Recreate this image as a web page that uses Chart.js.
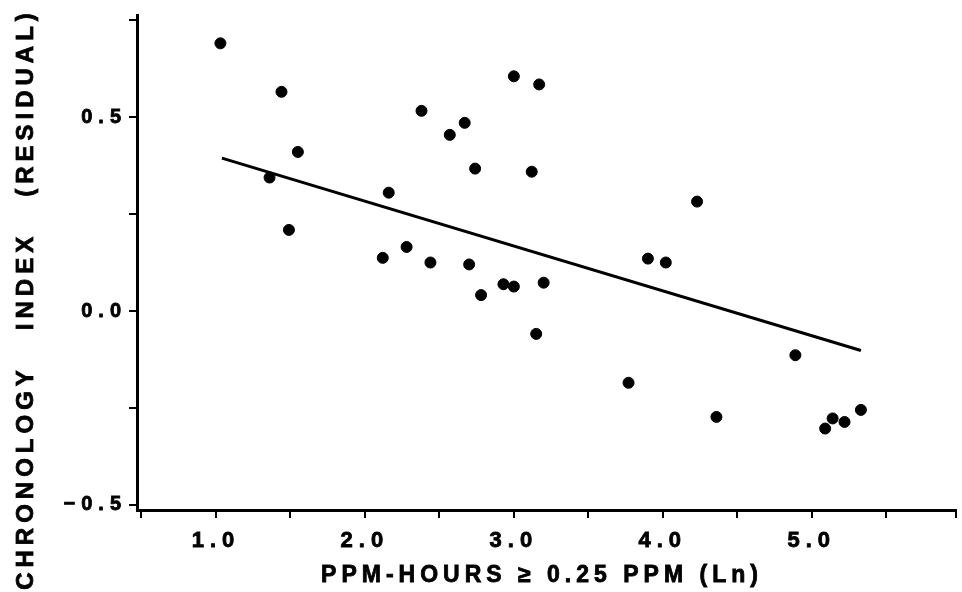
<!DOCTYPE html>
<html>
<head>
<meta charset="utf-8">
<script src="https://cdn.jsdelivr.net/npm/chart.js@4.4.0/dist/chart.umd.min.js"></script>
<style>
    html, body { margin: 0; padding: 0; background: #fff; }
    #wrap { width: 962px; height: 592px; }
</style>
</head>
<body>
<div id="wrap"><canvas id="chart" width="962" height="592"></canvas></div>
<script>
// Scatter points
const xValues = [1.03, 1.44, 1.55, 1.36, 1.49, 2.38, 2.57, 2.67, 2.74, 3.00, 3.17, 3.12,
                 2.16, 2.12, 2.28, 2.44, 2.70, 2.78, 2.93, 3.00, 3.20, 3.15, 3.77, 3.90,
                 4.02, 4.23, 4.36, 4.89, 5.09, 5.14, 5.22, 5.33];
const yValues = [0.69, 0.565, 0.41, 0.344, 0.209, 0.516, 0.454, 0.485, 0.367, 0.605, 0.584, 0.359,
                 0.305, 0.137, 0.165, 0.125, 0.12, 0.041, 0.069, 0.063, 0.073, -0.059, -0.185, 0.135,
                 0.125, 0.282, -0.273, -0.114, -0.303, -0.277, -0.286, -0.255];

// Fitted line end points
const fitX = [1.04, 5.33];
const fitY = [0.394, -0.102];

// Axis ranges and ticks
const xMin = 0.47;
const xMax = 5.965;
const yMin = -0.513;
const yMax = 0.763;
const xTickValues = [0.5, 1.0, 1.5, 2.0, 2.5, 3.0, 3.5, 4.0, 4.5, 5.0, 5.5, xMax];
const xTickLabels = [1.0, 2.0, 3.0, 4.0, 5.0];
const yTickValues = [-0.5, -0.25, 0.0, 0.25, 0.5, 0.75];
const yTickLabels = [-0.5, 0.0, 0.5];

const xTitle = 'PPM-HOURS \u2265 0.25 PPM (Ln)';
const yTitle = 'CHRONOLOGY   INDEX   (RESIDUAL)';

const FONT = '"Liberation Sans", Arial, sans-serif';

const points = xValues.map((x, i) => ({ x: x, y: yValues[i] }));
const fitLine = fitX.map((x, i) => ({ x: x, y: fitY[i] }));

const setTicks = (values) => (scale) => {
    scale.ticks = values.map(v => ({ value: v }));
};

const tickLabel = (labels) => (value) => {
    const hit = labels.some(l => Math.abs(l - value) < 1e-6);
    return hit ? value.toFixed(1).replace('-', '\u2212') : '';
};

// Letter-spaced titles, like the typed captions of the original
const titlesPlugin = {
    id: 'titles',
    beforeDraw(chart) {
        chart.ctx.letterSpacing = '6px';
    },
    afterDraw(chart) {
        const ctx = chart.ctx;
        ctx.save();
        ctx.fillStyle = '#000';
        ctx.strokeStyle = '#000';
        ctx.lineWidth = 0.8;
        ctx.font = 'bold 23px ' + FONT;
        ctx.textAlign = 'center';
        ctx.textBaseline = 'alphabetic';

        ctx.letterSpacing = '5px';
        ctx.fillText(xTitle, 542, 582);
        ctx.strokeText(xTitle, 542, 582);

        ctx.translate(33, 299);
        ctx.rotate(-Math.PI / 2);
        ctx.font = 'bold 24px ' + FONT;
        ctx.letterSpacing = '5px';
        ctx.fillText(yTitle, 0, 0);
        ctx.strokeText(yTitle, 0, 0);
        ctx.restore();
    }
};

new Chart(document.getElementById('chart'), {
    type: 'scatter',
    data: {
        datasets: [
            {
                label: 'Fit',
                type: 'line',
                data: fitLine,
                borderColor: '#000',
                borderWidth: 3,
                pointRadius: 0,
                fill: false,
                order: 2
            },
            {
                label: 'Residual',
                data: points,
                backgroundColor: '#000',
                borderColor: '#000',
                pointRadius: 5.5,
                pointHoverRadius: 5.5,
                order: 1
            }
        ]
    },
    options: {
        responsive: false,
        animation: false,
        events: [],
        layout: { padding: { top: 15, right: 0, left: 0, bottom: 0 } },
        plugins: {
            legend: { display: false },
            tooltip: { enabled: false }
        },
        scales: {
            x: {
                type: 'linear',
                min: xMin,
                max: xMax,
                afterBuildTicks: setTicks(xTickValues),
                afterFit: (scale) => {
                    scale.height = 82;
                    scale.paddingLeft = 0;
                    scale.paddingRight = 0;
                },
                border: { color: '#000', width: 3 },
                grid: { display: true, drawOnChartArea: false, drawTicks: true, tickLength: 8, color: '#000', lineWidth: 2 },
                ticks: {
                    color: '#000',
                    font: { family: FONT, size: 22, weight: 'bold' },
                    textStrokeColor: '#000',
                    textStrokeWidth: 0.8,
                    padding: 10,
                    maxRotation: 0,
                    autoSkip: false,
                    callback: tickLabel(xTickLabels)
                }
            },
            y: {
                type: 'linear',
                min: yMin,
                max: yMax,
                afterBuildTicks: setTicks(yTickValues),
                afterFit: (scale) => {
                    scale.width = 137;
                    scale.paddingTop = 0;
                    scale.paddingBottom = 0;
                },
                border: { color: '#000', width: 3 },
                grid: { display: true, drawOnChartArea: false, drawTicks: true, tickLength: 8, color: '#000', lineWidth: 2 },
                ticks: {
                    color: '#000',
                    font: { family: FONT, size: 20, weight: 'bold' },
                    textStrokeColor: '#000',
                    textStrokeWidth: 0.8,
                    padding: 2,
                    autoSkip: false,
                    callback: tickLabel(yTickLabels)
                }
            }
        }
    },
    plugins: [titlesPlugin]
});
</script>
</body>
</html>
